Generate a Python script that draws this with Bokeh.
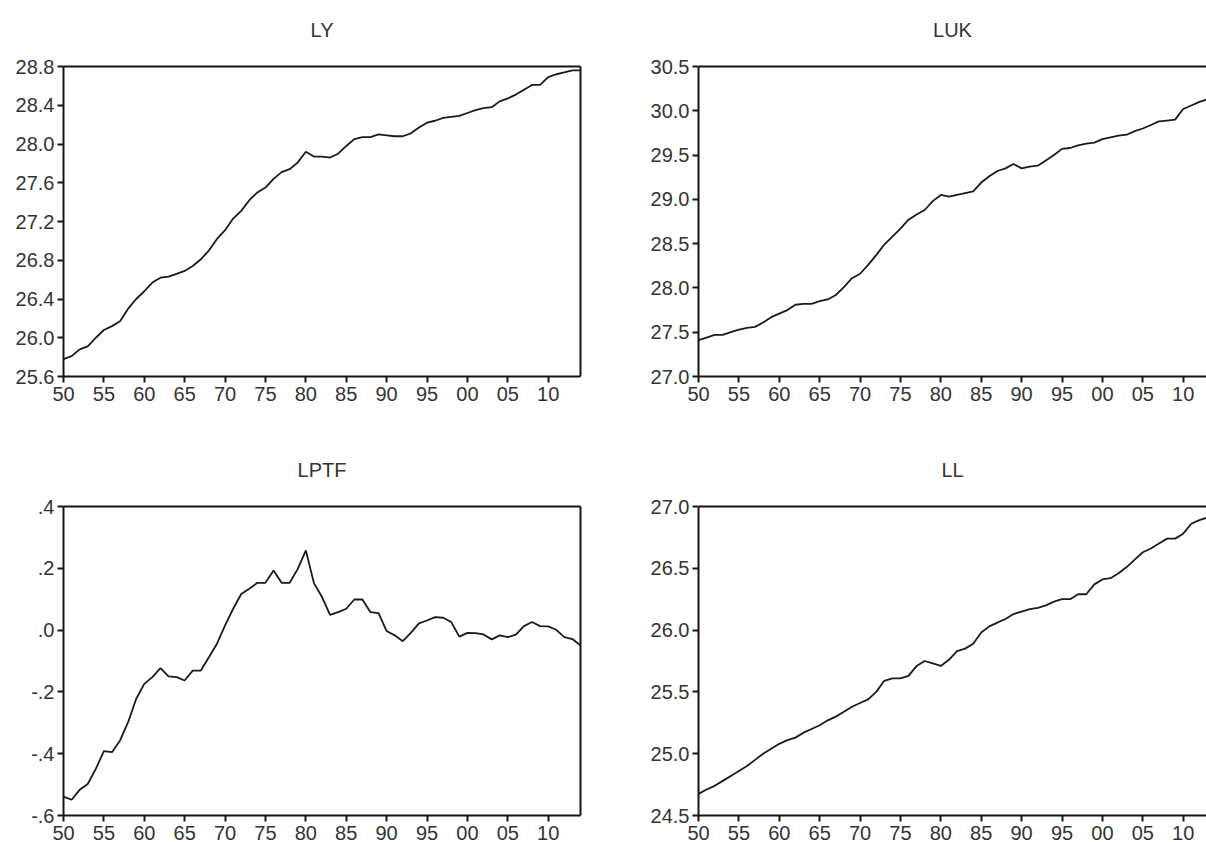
from bokeh.plotting import figure
from bokeh.layouts import column, row
from bokeh.models import Range1d, FixedTicker, LinearAxis
from bokeh.embed import file_html
from bokeh.resources import INLINE

# ---------------- data ----------------
years = list(range(1950, 2015))

ly = [25.78, 25.81, 25.88, 25.91, 26.00, 26.08, 26.12, 26.17, 26.30, 26.40,
      26.48, 26.57, 26.62, 26.63, 26.66, 26.69, 26.74, 26.81, 26.90, 27.02,
      27.11, 27.23, 27.31, 27.42, 27.50, 27.55, 27.64, 27.71, 27.74, 27.81,
      27.92, 27.87, 27.87, 27.86, 27.90, 27.98, 28.05, 28.07, 28.07, 28.10,
      28.09, 28.08, 28.08, 28.11, 28.17, 28.22, 28.24, 28.27, 28.28, 28.29,
      28.32, 28.35, 28.37, 28.38, 28.44, 28.47, 28.51, 28.56, 28.61, 28.61,
      28.69, 28.72, 28.74, 28.76, 28.76]

luk = [27.41, 27.44, 27.47, 27.47, 27.50, 27.53, 27.55, 27.56, 27.61, 27.67,
       27.71, 27.75, 27.81, 27.82, 27.82, 27.85, 27.87, 27.92, 28.01, 28.11,
       28.16, 28.26, 28.37, 28.49, 28.58, 28.67, 28.77, 28.83, 28.88, 28.98,
       29.05, 29.03, 29.05, 29.07, 29.09, 29.19, 29.26, 29.32, 29.35, 29.40,
       29.35, 29.37, 29.38, 29.44, 29.50, 29.57, 29.58, 29.61, 29.63, 29.64,
       29.68, 29.70, 29.72, 29.73, 29.77, 29.80, 29.84, 29.88, 29.89, 29.90,
       30.02, 30.06, 30.10, 30.13, 30.16]

lptf = [-0.539, -0.549, -0.517, -0.498, -0.449, -0.392, -0.395, -0.357, -0.298, -0.222,
        -0.174, -0.152, -0.123, -0.150, -0.152, -0.163, -0.131, -0.131, -0.088, -0.044,
        0.015, 0.069, 0.117, 0.134, 0.153, 0.153, 0.193, 0.153, 0.153, 0.198,
        0.258, 0.152, 0.107, 0.049, 0.058, 0.069, 0.099, 0.099, 0.058, 0.055,
        -0.003, -0.017, -0.036, -0.009, 0.022, 0.031, 0.042, 0.040, 0.026, -0.021,
        -0.009, -0.010, -0.014, -0.030, -0.017, -0.023, -0.015, 0.013, 0.026, 0.013,
        0.012, 0.001, -0.023, -0.029, -0.050]

ll = [24.675, 24.71, 24.74, 24.78, 24.82, 24.86, 24.90, 24.95, 25.00, 25.04,
      25.08, 25.11, 25.13, 25.17, 25.20, 25.23, 25.27, 25.30, 25.34, 25.38,
      25.41, 25.44, 25.50, 25.59, 25.61, 25.61, 25.63, 25.71, 25.75, 25.73,
      25.71, 25.76, 25.83, 25.85, 25.89, 25.98, 26.03, 26.06, 26.09, 26.13,
      26.15, 26.17, 26.18, 26.20, 26.23, 26.25, 26.25, 26.29, 26.29, 26.37,
      26.41, 26.42, 26.46, 26.51, 26.57, 26.63, 26.66, 26.70, 26.74, 26.74,
      26.78, 26.86, 26.89, 26.91, 26.93]

year_ticks = [1950, 1955, 1960, 1965, 1970, 1975, 1980, 1985, 1990, 1995, 2000, 2005, 2010]
year_labels = ["50", "55", "60", "65", "70", "75", "80", "85", "90", "95", "00", "05", "10"]

ly_ticks = [25.6, 26.0, 26.4, 26.8, 27.2, 27.6, 28.0, 28.4, 28.8]
ly_labels = ["25.6", "26.0", "26.4", "26.8", "27.2", "27.6", "28.0", "28.4", "28.8"]
luk_ticks = [27.0, 27.5, 28.0, 28.5, 29.0, 29.5, 30.0, 30.5]
luk_labels = ["27.0", "27.5", "28.0", "28.5", "29.0", "29.5", "30.0", "30.5"]
lptf_ticks = [-0.6, -0.4, -0.2, 0.0, 0.2, 0.4]
lptf_labels = ["-.6", "-.4", "-.2", ".0", ".2", ".4"]
ll_ticks = [24.5, 25.0, 25.5, 26.0, 26.5, 27.0]
ll_labels = ["24.5", "25.0", "25.5", "26.0", "26.5", "27.0"]

titles = ["LY", "LUK", "LPTF", "LL"]

# ---------------- styling ----------------
FONT = "Liberation Sans"
TXT = "#333333"
AX = "#151515"
LINE = "#1a1a1a"

LEFT_W = 643
RIGHT_W = 1206 - LEFT_W
TOP_H = 448
BOT_H = 842 - TOP_H
PX_PER_YEAR = 517 / 64.0


def style_axis(ax):
    ax.axis_line_color = AX
    ax.axis_line_width = 2
    ax.major_tick_line_color = AX
    ax.major_tick_line_width = 2
    ax.major_tick_out = 6
    ax.major_tick_in = 0
    ax.minor_tick_line_color = None
    ax.major_label_text_font = FONT
    ax.major_label_text_font_size = "20px"
    ax.major_label_text_color = TXT


def plain_axis(title=None):
    ax = LinearAxis(ticker=FixedTicker(ticks=[]), major_label_text_font_size="0px")
    ax.axis_line_color = AX
    ax.axis_line_width = 2
    ax.major_tick_out = 0
    ax.major_tick_in = 0
    ax.minor_tick_line_color = None
    ax.major_label_standoff = 0
    if title is not None:
        ax.axis_label = title
        ax.axis_label_text_font = FONT
        ax.axis_label_text_font_size = "20px"
        ax.axis_label_text_font_style = "normal"
        ax.axis_label_text_color = TXT
        ax.axis_label_standoff = 26
    return ax


def make(title, series, yt, yl, left_col, bottom_row):
    w = LEFT_W if left_col else RIGHT_W
    h = TOP_H if not bottom_row else BOT_H
    frame_w = 517 if left_col else RIGHT_W - 55
    top_b = 66 if not bottom_row else 58
    bot_b = 72 if not bottom_row else 25
    x_end = 1950 + frame_w / PX_PER_YEAR
    p = figure(width=w, height=h, output_backend="svg", toolbar_location=None,
               x_range=Range1d(1950, x_end), y_range=Range1d(yt[0], yt[-1]),
               x_axis_location=None, y_axis_location=None,
               min_border_left=(63 if left_col else 55),
               min_border_right=(63 if left_col else 0),
               min_border_top=top_b, min_border_bottom=bot_b)
    p.xgrid.visible = False
    p.ygrid.visible = False
    p.background_fill_color = "white"
    p.border_fill_color = "white"
    p.outline_line_color = None

    xax = LinearAxis(ticker=FixedTicker(ticks=year_ticks),
                     major_label_overrides=dict(zip(year_ticks, year_labels)))
    style_axis(xax)
    xax.major_label_standoff = 4
    p.add_layout(xax, "below")

    yax = LinearAxis(ticker=FixedTicker(ticks=yt),
                     major_label_overrides=dict(zip(yt, yl)))
    style_axis(yax)
    yax.major_label_standoff = 3
    p.add_layout(yax, "left")

    p.add_layout(plain_axis(title), "above")
    if left_col:
        p.add_layout(plain_axis(), "right")

    p.line(years, series, line_color=LINE, line_width=1.8)
    return p


p1 = make(titles[0], ly, ly_ticks, ly_labels, True, False)
p2 = make(titles[1], luk, luk_ticks, luk_labels, False, False)
p3 = make(titles[2], lptf, lptf_ticks, lptf_labels, True, True)
p4 = make(titles[3], ll, ll_ticks, ll_labels, False, True)

layout = column(row(p1, p2), row(p3, p4))

open("out.html", "w").write(file_html(layout, INLINE))
